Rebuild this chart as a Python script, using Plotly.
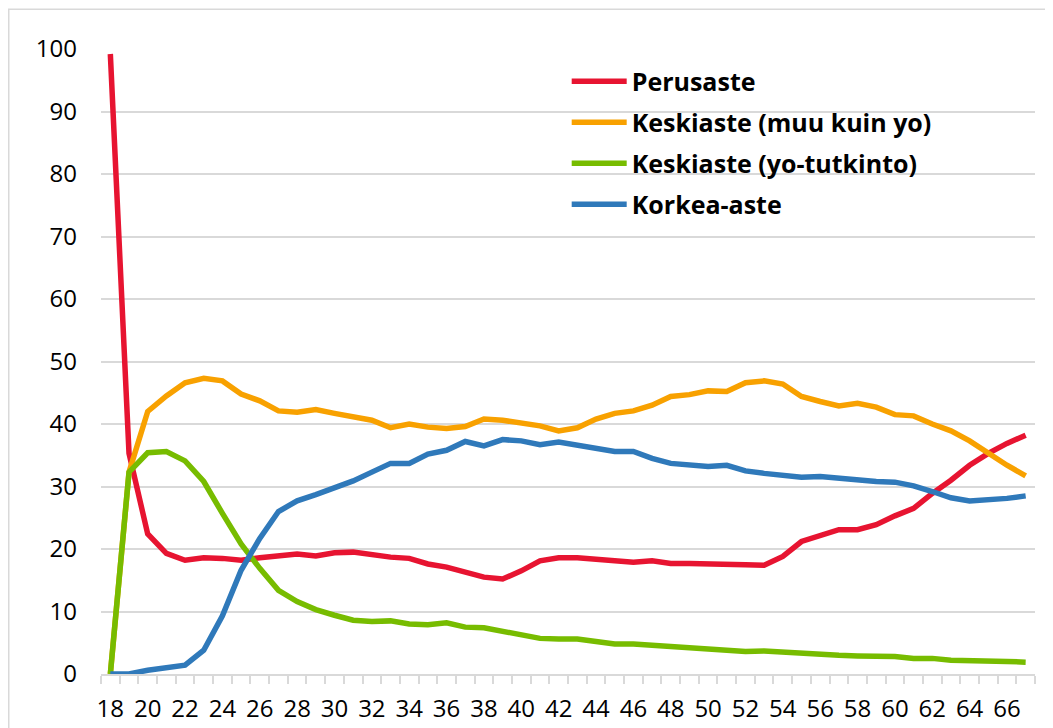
import plotly.graph_objects as go

ages = [18, 19, 20, 21, 22, 23, 24, 25, 26, 27, 28, 29, 30, 31, 32, 33, 34, 35, 36, 37,
        38, 39, 40, 41, 42, 43, 44, 45, 46, 47, 48, 49, 50, 51, 52, 53, 54, 55, 56, 57,
        58, 59, 60, 61, 62, 63, 64, 65, 66, 67]

perusaste = [99.2, 35.3, 22.4, 19.3, 18.2, 18.6, 18.5, 18.2, 18.6, 18.8, 19.2, 18.9, 19.4,
             19.5, 19.0, 18.7, 18.5, 17.6, 17.1, 16.3, 15.5, 15.2, 16.5, 18.1, 18.6, 18.6,
             18.4, 18.2, 17.9, 18.1, 17.7, 17.7, 17.7, 17.7, 17.5, 17.4, 18.8, 21.2, 22.1,
             23.1, 23.1, 23.9, 25.3, 26.5, 28.9, 31.0, 33.4, 35.3, 36.9, 38.2]

keski_muu = [0.0, 32.3, 42.0, 44.5, 46.6, 47.3, 46.9, 44.8, 43.7, 42.1, 41.9, 42.3, 41.7,
             41.2, 40.6, 39.4, 40.0, 39.5, 39.3, 39.6, 40.8, 40.6, 40.1, 39.7, 38.9, 39.4,
             40.8, 41.7, 42.1, 43.0, 44.4, 44.7, 45.3, 45.2, 46.6, 46.9, 46.4, 44.4, 43.6,
             42.9, 43.3, 42.7, 41.5, 41.3, 40.0, 38.9, 37.3, 35.3, 33.4, 31.7]

keski_yo = [0.0, 32.3, 35.4, 35.6, 34.1, 30.8, 25.7, 20.8, 16.9, 13.4, 11.6, 10.3, 9.4,
            8.6, 8.4, 8.5, 8.0, 7.9, 8.2, 7.5, 7.4, 6.8, 6.3, 5.7, 5.6, 5.6,
            5.2, 4.8, 4.8, 4.6, 4.4, 4.2, 4.0, 4.0, 3.6, 3.7, 3.5, 3.2, 3.2,
            3.0, 2.9, 2.9, 2.8, 2.5, 2.5, 2.2, 2.2, 2.1, 2.0, 1.9]

korkea = [0.0, 0.0, 0.6, 1.1, 1.4, 3.8, 9.3, 16.6, 21.7, 26.0, 27.7, 28.7, 29.7,
          30.9, 32.3, 33.7, 33.7, 35.2, 35.8, 37.2, 36.5, 37.5, 37.3, 36.7, 37.1, 36.6,
          35.9, 35.6, 35.6, 34.5, 33.7, 33.5, 33.2, 33.4, 32.5, 32.1, 31.7, 31.5, 31.6,
          31.3, 30.9, 30.8, 30.7, 30.1, 29.2, 28.2, 27.7, 27.8, 28.1, 28.5]

series_names = ["Perusaste", "Keskiaste (muu kuin yo)", "Keskiaste (yo-tutkinto)", "Korkea-aste"]
series_values = [perusaste, keski_muu, keski_yo, korkea]
colors = ["#E71431", "#F8A100", "#77BC00", "#2F79BA"]

x_tick_vals = [18, 20, 22, 24, 26, 28, 30, 32, 34, 36, 38, 40, 42, 44, 46, 48, 50, 52, 54, 56, 58, 60, 62, 64, 66]
y_tick_vals = [0, 10, 20, 30, 40, 50, 60, 70, 80, 90, 100]

FONT = "Open Sans"

# The page body adds an 8px offset, so the figure is sized 1045x720.
fig = go.Figure()
for name, vals, col in zip(series_names, series_values, colors):
    fig.add_trace(go.Scatter(
        x=ages, y=vals, mode="lines", name="<b>" + name + "</b>",
        legendgroup=name,
        line=dict(color=col, width=5.5),
    ))

fig.update_layout(
    width=1045, height=720,
    margin=dict(l=93, r=18, t=41, b=54, autoexpand=False),
    paper_bgcolor="white", plot_bgcolor="white",
    font=dict(family=FONT, size=24, color="black"),
    showlegend=True,
    legend=dict(
        x=0.4986, y=0.985, xanchor="left", yanchor="top",
        bgcolor="rgba(0,0,0,0)",
        font=dict(family=FONT, size=25, color="black"),
        itemwidth=55,
        tracegroupgap=5.5,
    ),
    xaxis=dict(
        range=[17.5, 67.5], automargin=False,
        tickmode="array", tickvals=x_tick_vals,
        ticks="", showgrid=False, zeroline=False,
        showline=True, linecolor="#d9d9d9", linewidth=2,
        ticklabelstandoff=12,
        minor=dict(tick0=17.5, dtick=1, ticks="outside", ticklen=8,
                   tickcolor="#d9d9d9", tickwidth=2, showgrid=False),
    ),
    yaxis=dict(
        range=[0, 100], automargin=False,
        tickmode="array", tickvals=y_tick_vals,
        ticks="", showgrid=True, gridcolor="#d9d9d9", gridwidth=1.5,
        zeroline=False, showline=False,
        ticklabelstandoff=23,
    ),
    shapes=[dict(
        type="rect", xref="paper", yref="paper",
        x0=(0.75 - 93) / 934, x1=1.2, y0=-0.3, y1=(666 - 1.25) / 625,
        line=dict(color="#d9d9d9", width=1.5), fillcolor="rgba(0,0,0,0)",
        layer="below",
    )],
)

fig.write_html("out.html")
